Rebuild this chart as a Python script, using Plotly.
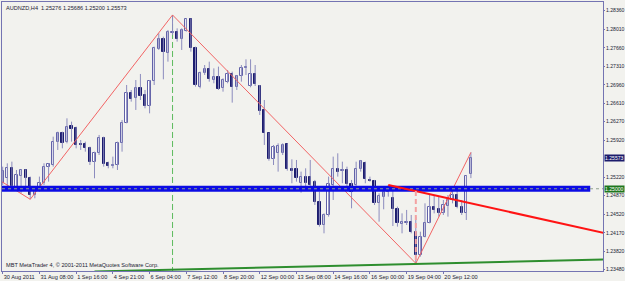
import plotly.graph_objects as go

symbol = "AUDNZD,H4"

open_ = [1.25115, 1.25197, 1.25398, 1.25040, 1.25241, 1.25354, 1.25197, 1.24882, 1.24964, 1.25103,
         1.25417, 1.25448, 1.25889, 1.26046, 1.25889, 1.26184, 1.26153, 1.25845, 1.25845, 1.25763,
         1.25511, 1.25669, 1.25964, 1.25480, 1.25436, 1.25448, 1.25870, 1.26247, 1.26813, 1.26706,
         1.26895, 1.26769, 1.26562, 1.27033, 1.27631, 1.27820, 1.27556, 1.27946, 1.27964, 1.27820,
         1.27983, 1.28197, 1.27650, 1.26914, 1.27191, 1.27254, 1.27052, 1.27103, 1.26895, 1.27021,
         1.27166, 1.26914, 1.27128, 1.27279, 1.26939, 1.27166, 1.26939, 1.26487, 1.26046, 1.25555,
         1.25681, 1.25681, 1.25845, 1.25367, 1.25367, 1.25115, 1.25216, 1.25216, 1.25134, 1.24757,
         1.24316, 1.24505, 1.25071, 1.25373, 1.25335, 1.25354, 1.25084, 1.25071, 1.25367, 1.25492,
         1.25166, 1.25147, 1.24725, 1.24851, 1.24939, 1.24820, 1.24625, 1.24335, 1.24360, 1.24379,
         1.24190, 1.23750, 1.24096, 1.24360, 1.24662, 1.24612, 1.24536, 1.24675, 1.24788, 1.24882,
         1.24662, 1.24536, 1.25276]
high = [1.25417, 1.25480, 1.25511, 1.25354, 1.25367, 1.25367, 1.25229, 1.25040, 1.25229, 1.25480,
        1.25480, 1.25983, 1.26077, 1.26077, 1.26329, 1.26266, 1.26172, 1.25920, 1.25889, 1.25794,
        1.25700, 1.26015, 1.25983, 1.25511, 1.25606, 1.25889, 1.26298, 1.26958, 1.26864, 1.27052,
        1.27166, 1.26864, 1.27052, 1.27681, 1.27933, 1.27870, 1.27996, 1.28279, 1.28027, 1.28027,
        1.28216, 1.28216, 1.27681, 1.27210, 1.27335, 1.27398, 1.27272, 1.27304, 1.27084, 1.27241,
        1.27210, 1.27147, 1.27335, 1.27442, 1.27442, 1.27335, 1.26958, 1.26675, 1.26058, 1.25826,
        1.25857, 1.25857, 1.25857, 1.25555, 1.25543, 1.25323, 1.25386, 1.25543, 1.25166, 1.24945,
        1.24536, 1.25229, 1.25606, 1.25669, 1.25511, 1.25417, 1.25166, 1.25511, 1.25543, 1.25511,
        1.25229, 1.25166, 1.24914, 1.25040, 1.25071, 1.24977, 1.24662, 1.24536, 1.24600, 1.24505,
        1.24474, 1.24190, 1.24725, 1.24882, 1.24882, 1.24851, 1.24788, 1.24882, 1.24977, 1.24977,
        1.24788, 1.25260, 1.25686]
low = [1.25071, 1.25008, 1.25027, 1.24977, 1.24914, 1.25040, 1.24801, 1.24820, 1.24945, 1.25071,
       1.25134, 1.25417, 1.25732, 1.25763, 1.25857, 1.25889, 1.25763, 1.25732, 1.25700, 1.25448,
       1.25197, 1.25637, 1.25417, 1.25386, 1.25386, 1.25354, 1.25700, 1.26235, 1.26644, 1.26487,
       1.26675, 1.26518, 1.26423, 1.26958, 1.27619, 1.27065, 1.27398, 1.27902, 1.27776, 1.27619,
       1.27964, 1.27587, 1.26927, 1.26895, 1.27147, 1.27021, 1.26990, 1.26864, 1.26832, 1.26990,
       1.26625, 1.26864, 1.27021, 1.27147, 1.26914, 1.26939, 1.26392, 1.25826, 1.25530, 1.25448,
       1.25323, 1.25637, 1.25342, 1.25103, 1.25134, 1.24926, 1.25040, 1.24977, 1.24694, 1.24285,
       1.24159, 1.24474, 1.24788, 1.25229, 1.25103, 1.25040, 1.24631, 1.24964, 1.25323, 1.25103,
       1.25134, 1.24694, 1.24379, 1.24612, 1.24851, 1.24297, 1.24285, 1.24159, 1.24316, 1.24159,
       1.23593, 1.23719, 1.24083, 1.24348, 1.24536, 1.24474, 1.24505, 1.24474, 1.24725, 1.24631,
       1.24505, 1.24411, 1.25200]
close = [1.25342, 1.25386, 1.25052, 1.25260, 1.25354, 1.25197, 1.24882, 1.24989, 1.25103, 1.25417,
         1.25461, 1.25889, 1.26046, 1.25857, 1.26172, 1.26121, 1.25826, 1.25826, 1.25763, 1.25499,
         1.25669, 1.25952, 1.25461, 1.25436, 1.25448, 1.25870, 1.26247, 1.26813, 1.26700, 1.26895,
         1.26751, 1.26562, 1.27033, 1.27650, 1.27820, 1.27587, 1.27964, 1.27964, 1.27820, 1.27996,
         1.28197, 1.27650, 1.26958, 1.27178, 1.27254, 1.27065, 1.27103, 1.26876, 1.27052, 1.27166,
         1.26914, 1.27128, 1.27285, 1.27291, 1.27166, 1.26977, 1.26474, 1.26058, 1.25555, 1.25794,
         1.25807, 1.25826, 1.25367, 1.25342, 1.25197, 1.25216, 1.25103, 1.25071, 1.24757, 1.24316,
         1.24505, 1.25090, 1.25367, 1.25323, 1.25354, 1.25084, 1.24945, 1.25367, 1.25524, 1.25178,
         1.25147, 1.24725, 1.24863, 1.24945, 1.25027, 1.24612, 1.24348, 1.24379, 1.24373, 1.24190,
         1.23750, 1.24096, 1.24360, 1.24650, 1.24600, 1.24536, 1.24694, 1.24788, 1.24882, 1.24662,
         1.24536, 1.25241, 1.25573]

time_labels = ["30 Aug 2011", "31 Aug 08:00", "1 Sep 16:00", "4 Sep 21:00", "6 Sep 04:00",
               "7 Sep 12:00", "8 Sep 20:00", "12 Sep 00:00", "13 Sep 08:00", "14 Sep 16:00",
               "16 Sep 00:00", "19 Sep 04:00", "20 Sep 12:00"]
bars_per_label = 8

price_ticks = [1.28360, 1.28010, 1.27660, 1.27310, 1.26960, 1.26610, 1.26270, 1.25920,
               1.25220, 1.24870, 1.24520, 1.24170, 1.23820, 1.23480]

level_price = 1.25000
zigzag_pivots = [6, 37, 90, 102]          # low, high, low, high
zigzag_prev = (-2, 1.25230)               # previous pivot, off chart
red_trend_x = [84, 131]
red_trend_y = [1.25071, 1.24165]
green_trend_x = [20, 131]
green_trend_y = [1.23438, 1.23665]

X_RANGE = [-0.153, 130.78]
Y_RANGE = [1.23448, 1.28524]

BG = "#F2F2EE"
FONT = "Liberation Sans"
FS = 5.6
FS_AX = 5.1

n = len(close)
idx = list(range(n))

fig = go.Figure()

# green dashed vertical at the top pivot
top_i = zigzag_pivots[1]
fig.add_trace(go.Scatter(x=[top_i, top_i], y=[high[top_i], Y_RANGE[0]], mode="lines",
                         line=dict(color="#5DBB5D", width=1, dash="6px,3px"), hoverinfo="skip"))

# wicks
wx, wy = [], []
for i in idx:
    wx += [i, i, None]
    wy += [low[i], high[i], None]
fig.add_trace(go.Scatter(x=wx, y=wy, mode="lines", line=dict(color="#8C8CBE", width=1),
                         hoverinfo="skip"))

# bodies
base = [min(o, c) for o, c in zip(open_, close)]
height = [max(abs(c - o), 0.00008) for o, c in zip(open_, close)]
fill = ["#FFFFFF" if c >= o else "#1C1C6E" for o, c in zip(open_, close)]
edge = ["#6262A8" if c >= o else "#1C1C6E" for o, c in zip(open_, close)]
fig.add_trace(go.Bar(x=idx, y=height, base=base, width=0.5,
                     marker=dict(color=fill, line=dict(color=edge, width=1)), hoverinfo="skip"))

# zigzag
zx = [zigzag_prev[0]] + zigzag_pivots
zy = [zigzag_prev[1]]
for k, p in enumerate(zigzag_pivots):
    zy.append(low[p] if k % 2 == 0 else high[p])
fig.add_trace(go.Scatter(x=zx, y=zy, mode="lines", line=dict(color="#F26464", width=1),
                         hoverinfo="skip"))

# blue band at level
fig.add_trace(go.Scatter(x=[X_RANGE[0], 128.0], y=[level_price, level_price], mode="lines",
                         line=dict(color="#0C0CE4", width=6), hoverinfo="skip"))
fig.add_trace(go.Scatter(x=X_RANGE, y=[level_price, level_price], mode="lines",
                         line=dict(color="#8FA08F", width=1, dash="dot"), hoverinfo="skip"))

# red trend line
fig.add_trace(go.Scatter(x=red_trend_x, y=red_trend_y, mode="lines",
                         line=dict(color="#FF1414", width=2), hoverinfo="skip"))

# red dashed vertical from trend line to bottom pivot
low_i = zigzag_pivots[2]
slope = (red_trend_y[1] - red_trend_y[0]) / (red_trend_x[1] - red_trend_x[0])
t_at = red_trend_y[0] + slope * (low_i - red_trend_x[0])
fig.add_trace(go.Scatter(x=[low_i, low_i], y=[t_at, low[low_i]], mode="lines",
                         line=dict(color="#F4A2A2", width=2, dash="5px,3px"), hoverinfo="skip"))

# green trend line
fig.add_trace(go.Scatter(x=green_trend_x, y=green_trend_y, mode="lines",
                         line=dict(color="#2E8E2E", width=2), hoverinfo="skip"))

axis_col = "#7474B2"
fig.update_layout(
    width=625, height=281,
    margin=dict(l=2, r=22, t=2, b=10, autoexpand=False),
    paper_bgcolor=BG, plot_bgcolor=BG,
    showlegend=False, bargap=0,
    font=dict(family=FONT, size=FS, color="#222233"),
    xaxis=dict(range=X_RANGE, showgrid=False, zeroline=False, showline=True, mirror=True,
               linecolor=axis_col, linewidth=1, automargin=False, tickangle=0,
               tickvals=[k * bars_per_label for k in range(len(time_labels))],
               ticktext=time_labels, ticks="outside", ticklen=2, tickcolor=axis_col,
               ticklabelposition="outside right", tickfont=dict(size=FS, color="#222233")),
    yaxis=dict(range=Y_RANGE, side="right", showgrid=False, zeroline=False, showline=True,
               mirror=True, linecolor=axis_col, linewidth=1, automargin=False,
               tickvals=price_ticks, ticktext=[f"{v:.5f}" for v in price_ticks],
               ticks="outside", ticklen=1, tickcolor=axis_col,
               tickfont=dict(size=FS_AX, color="#222233")),
    annotations=[
        dict(xref="paper", yref="paper", x=0, y=1, xanchor="left", yanchor="top",
             xshift=2, yshift=-1, showarrow=False,
             text=f"{symbol}  {open_[-1]:.5f} {high[-1]:.5f} {low[-1]:.5f} {close[-1]:.5f}",
             font=dict(size=FS, color="#222233")),
        dict(xref="paper", yref="paper", x=0, y=0, xanchor="left", yanchor="bottom",
             xshift=2, yshift=1, showarrow=False,
             text="MBT MetaTrader 4, © 2001-2011 MetaQuotes Software Corp.",
             font=dict(size=FS, color="#222233")),
        dict(xref="paper", yref="y", x=1, y=close[-1], xanchor="left", yanchor="middle",
             showarrow=False, text=f"{close[-1]:.5f}", bgcolor="#1C1C6C", borderpad=0,
             xshift=1, font=dict(size=FS_AX, color="#FFFFFF")),
        dict(xref="paper", yref="y", x=1, y=level_price, xanchor="left", yanchor="middle",
             showarrow=False, text=f"{level_price:.5f}", bgcolor="#1E761E", borderpad=0,
             xshift=1, font=dict(size=FS_AX, color="#FFFFFF")),
    ],
)

fig.write_html("out.html")
